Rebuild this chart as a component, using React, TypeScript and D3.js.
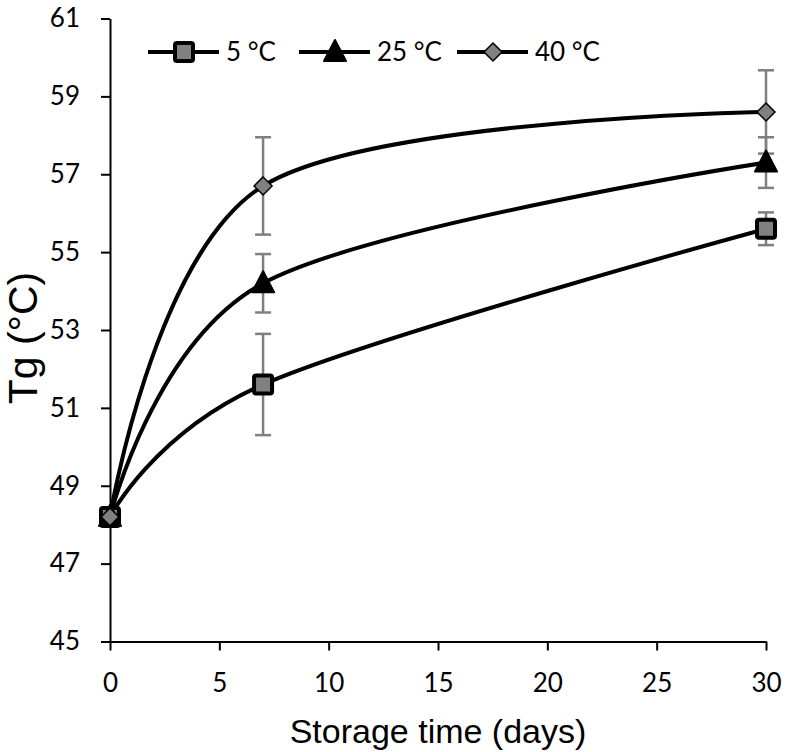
import React, { useEffect, useRef } from 'react';
import * as d3 from 'd3';

// storage days
const days = [0, 7, 30];
const seriesNames = ['5 °C', '25 °C', '40 °C'];
const tg5 = [48.2, 51.6, 55.6];
const tg25 = [48.2, 54.2, 57.3];
const tg40 = [48.2, 56.7, 58.6];
const err5 = [0, 1.3, 0.42];
const err25 = [0, 0.75, 0.65];
const err40 = [0, 1.25, 1.07];
const xTicks = [0, 5, 10, 15, 20, 25, 30];
const yTicks = [45, 47, 49, 51, 53, 55, 57, 59, 61];

const TICKFONT = 'Lato, "Open Sans", sans-serif';
const TITLEFONT = '"Liberation Sans", Arial, sans-serif';

export default function App() {
  const ref = useRef<SVGSVGElement>(null);

  useEffect(() => {
    const svg = d3.select(ref.current);
    svg.selectAll('*').remove();

    const x = d3.scaleLinear().domain([0, 30]).range([110, 766]);
    const y = d3.scaleLinear().domain([45, 61]).range([641.5, 18.5]);

    // axes
    const gx = svg.append('g').attr('transform', 'translate(0,641.5)');
    gx.call(d3.axisBottom(x).tickValues(xTicks).tickSize(9).tickPadding(23).tickSizeOuter(0) as any);
    const gy = svg.append('g').attr('transform', 'translate(110,0)');
    gy.call(d3.axisLeft(y).tickValues(yTicks).tickSize(9).tickPadding(21).tickSizeOuter(0) as any);
    [gx, gy].forEach((g) => {
      g.selectAll('path, line').attr('stroke', '#000').attr('stroke-width', 2);
      g.selectAll('text').attr('font-family', TICKFONT).attr('font-size', 26).attr('fill', '#000');
    });

    svg.append('text')
      .attr('x', x(15)).attr('y', 743)
      .attr('text-anchor', 'middle')
      .attr('font-family', TITLEFONT).attr('font-size', 34)
      .text('Storage time (days)');
    svg.append('text')
      .attr('transform', 'translate(37,338) rotate(-90)')
      .attr('text-anchor', 'middle')
      .attr('font-family', TITLEFONT).attr('font-size', 41)
      .text('Tg (°C)');

    const allVals = [tg5, tg25, tg40];
    const allErr = [err5, err25, err40];

    const line = d3.line<number>()
      .x((d, i) => x(days[i]))
      .y((d) => y(d))
      .curve(d3.curveCardinal.tension(0));

    const drawMarker = (g: any, k: number, cx: number, cy: number) => {
      if (k === 0) {
        g.append('rect').attr('x', cx - 9).attr('y', cy - 9).attr('width', 18).attr('height', 18)
          .attr('rx', 2).attr('fill', '#808080').attr('stroke', '#000').attr('stroke-width', 4);
      } else if (k === 1) {
        g.append('path')
          .attr('d', `M${cx},${cy - 12}L${cx + 11},${cy + 9}L${cx - 11},${cy + 9}Z`)
          .attr('fill', '#000').attr('stroke', '#000').attr('stroke-width', 2).attr('stroke-linejoin', 'round');
      } else {
        g.append('path')
          .attr('d', `M${cx},${cy - 9}L${cx + 9},${cy}L${cx},${cy + 9}L${cx - 9},${cy}Z`)
          .attr('fill', '#808080').attr('stroke', '#000').attr('stroke-width', 1.5);
      }
    };

    // error bars
    allVals.forEach((vals, k) => {
      vals.forEach((v, i) => {
        const e = allErr[k][i];
        if (!e) return;
        const cx = x(days[i]);
        const g = svg.append('g').attr('stroke', '#7f7f7f').attr('stroke-width', 2.5);
        g.append('line').attr('x1', cx).attr('x2', cx).attr('y1', y(v + e)).attr('y2', y(v - e));
        g.append('line').attr('x1', cx - 8).attr('x2', cx + 8).attr('y1', y(v + e)).attr('y2', y(v + e));
        g.append('line').attr('x1', cx - 8).attr('x2', cx + 8).attr('y1', y(v - e)).attr('y2', y(v - e));
      });
    });

    // series
    allVals.forEach((vals, k) => {
      const g = svg.append('g');
      g.append('path').attr('d', line(vals) as string)
        .attr('fill', 'none').attr('stroke', '#000').attr('stroke-width', 4);
      vals.forEach((v, i) => drawMarker(g, k, x(days[i]), y(v)));
    });

    // legend
    const legX = [148, 299, 457];
    seriesNames.forEach((name, k) => {
      const g = svg.append('g');
      const lx = legX[k];
      g.append('line').attr('x1', lx).attr('x2', lx + 71).attr('y1', 52).attr('y2', 52)
        .attr('stroke', '#000').attr('stroke-width', 4);
      drawMarker(g, k, lx + 36, 52);
      g.append('text').attr('x', lx + 78).attr('y', 52).attr('dy', '0.36em')
        .attr('font-family', TICKFONT).attr('font-size', 26).text(name);
    });
  }, []);

  return (
    <svg ref={ref} width={786} height={752}
      style={{ position: 'absolute', left: 0, top: 0, background: '#fff' }} />
  );
}
